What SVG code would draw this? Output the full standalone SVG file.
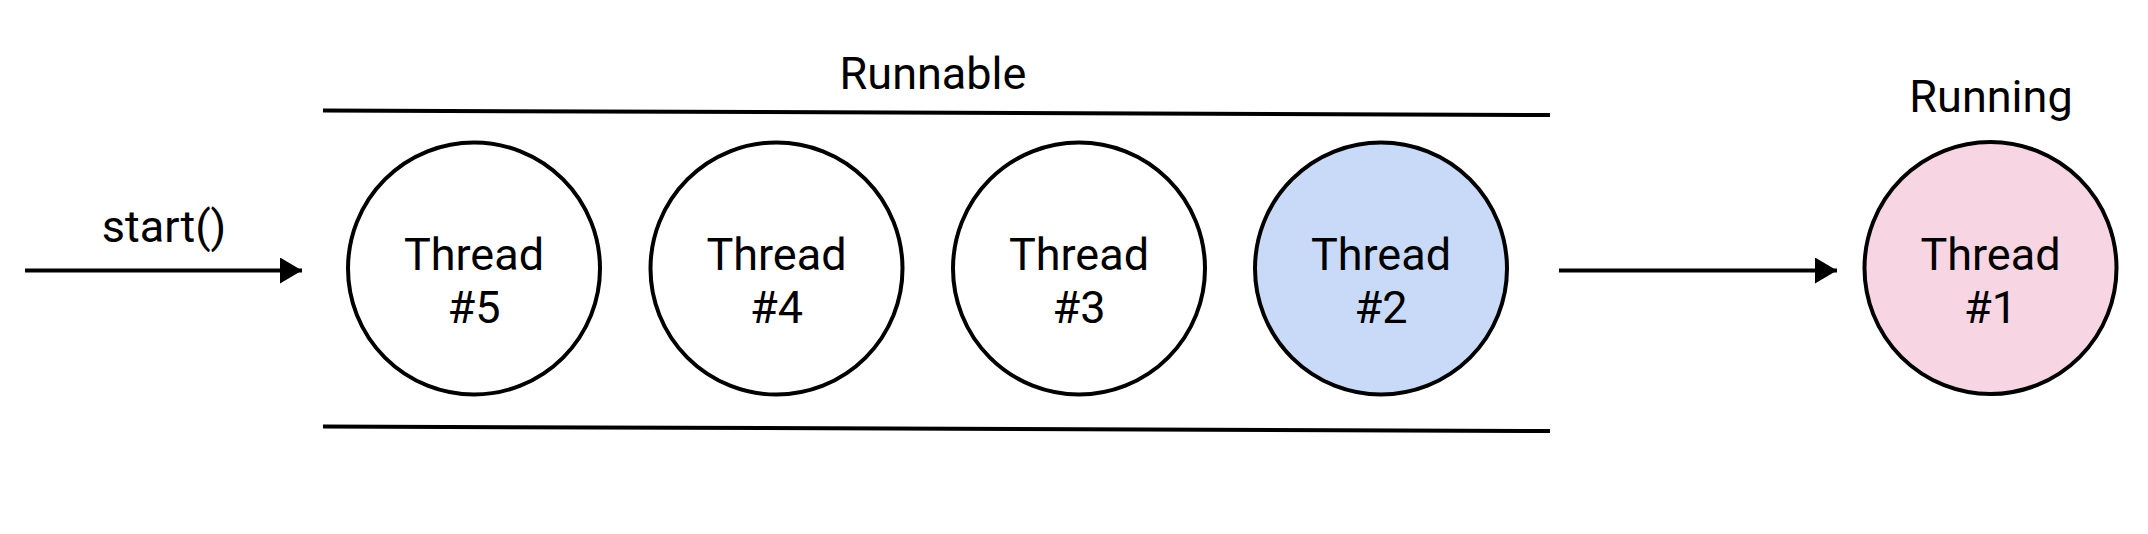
<svg xmlns="http://www.w3.org/2000/svg" width="2148" height="534" viewBox="0 0 2148 534">
  <defs>
    <style>
      .node { stroke: #000; stroke-width: 4; }
      .lbl { font-family: Roboto, "Liberation Sans", sans-serif; font-size: 45px; fill: #000; text-anchor: middle; }
      .conn { stroke: #000; stroke-width: 4; fill: none; }
    </style>
    <marker id="arrow" markerUnits="userSpaceOnUse" markerWidth="24" markerHeight="26" refX="22" refY="13" orient="auto">
      <path d="M0,0 L22,13 L0,26 Z" fill="#000"/>
    </marker>
  </defs>
  <rect width="2148" height="534" fill="#fff"/>

  <g id="connectors">
    <line class="conn" x1="25" y1="270.5" x2="302" y2="270.5" marker-end="url(#arrow)"/>
    <line class="conn" x1="1559" y1="270.5" x2="1837" y2="270.5" marker-end="url(#arrow)"/>
  </g>

  <g id="runnable-queue">
    <line class="conn" x1="323" y1="110.5" x2="1550" y2="115"/>
    <line class="conn" x1="323" y1="426.5" x2="1550" y2="431"/>
    <text class="lbl" x="933" y="89">Runnable</text>
  </g>

  <g id="start-label">
    <text class="lbl" x="164" y="242">start()</text>
  </g>

  <g id="thread5">
    <circle class="node" cx="474" cy="268.5" r="126" fill="#fff"/>
    <text class="lbl" x="474" y="270">Thread</text>
    <text class="lbl" x="474" y="323">#5</text>
  </g>
  <g id="thread4">
    <circle class="node" cx="776.5" cy="268.5" r="126" fill="#fff"/>
    <text class="lbl" x="776.5" y="270">Thread</text>
    <text class="lbl" x="776.5" y="323">#4</text>
  </g>
  <g id="thread3">
    <circle class="node" cx="1079" cy="268.5" r="126" fill="#fff"/>
    <text class="lbl" x="1079" y="270">Thread</text>
    <text class="lbl" x="1079" y="323">#3</text>
  </g>
  <g id="thread2">
    <circle class="node" cx="1381" cy="268.5" r="126" fill="#c9daf8"/>
    <text class="lbl" x="1381" y="270">Thread</text>
    <text class="lbl" x="1381" y="323">#2</text>
  </g>
  <g id="thread1">
    <text class="lbl" x="1991" y="112">Running</text>
    <circle class="node" cx="1990.5" cy="268" r="126" fill="#f7d5e2"/>
    <text class="lbl" x="1990.5" y="270">Thread</text>
    <text class="lbl" x="1990.5" y="323">#1</text>
  </g>
</svg>
